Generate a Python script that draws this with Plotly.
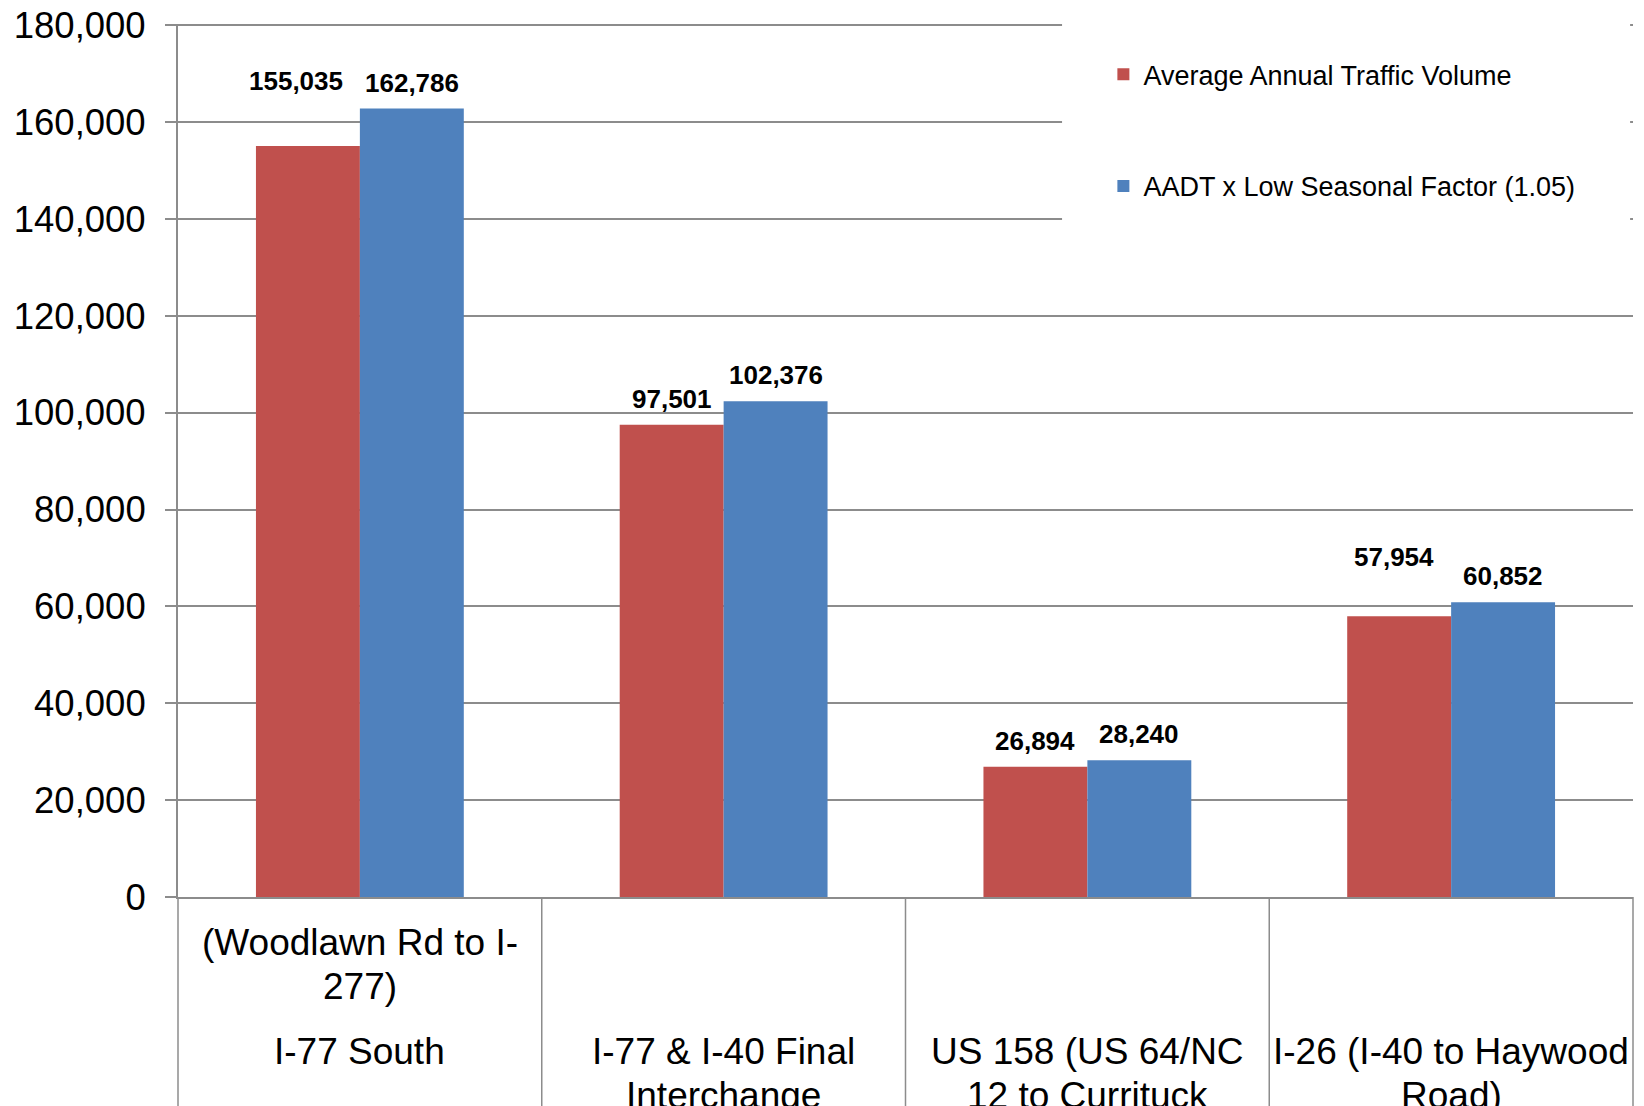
import plotly.graph_objects as go

# Corridors (outer category level) and sub-section notes (inner level)
corridors = [
    "I-77 South",
    "I-77 & I-40 Final Interchange",
    "US 158 (US 64/NC 12 to Currituck",
    "I-26 (I-40 to Haywood Road)",
]
corridor_lines = [
    ["I-77 South"],
    ["I-77 & I-40 Final", "Interchange"],
    ["US 158 (US 64/NC", "12 to Currituck"],
    ["I-26 (I-40 to Haywood", "Road)"],
]
section_lines = [["(Woodlawn Rd to I-", "277)"], [], [], []]

# Traffic volumes
series_names = ["Average Annual Traffic Volume", "AADT x Low Seasonal Factor (1.05)"]
aadt = [155035, 97501, 26894, 57954]
aadt_low_season = [162786, 102376, 28240, 60852]

y_ticks = [0, 20000, 40000, 60000, 80000, 100000, 120000, 140000, 160000, 180000]

RED = "#C0504D"
BLUE = "#4F81BD"
GRID = "#8C8C8C"
FONT = "Liberation Sans, Arial, sans-serif"
BARGAP = 1.5 / 3.5  # Excel gap width of 150%

fig = go.Figure()
fig.add_trace(go.Bar(x=corridors, y=aadt, name=series_names[0],
                     marker=dict(color=RED, line=dict(width=0)), legend="legend"))
fig.add_trace(go.Bar(x=corridors, y=aadt_low_season, name=series_names[1],
                     marker=dict(color=BLUE, line=dict(width=0)), legend="legend2"))

# Value labels above bars; a couple of labels are lifted to clear their neighbours
label_nudge = {(0, 0): (-12, 39), (0, 3): (-5, 33)}
half = (1 - BARGAP) / 4
annotations = []
for s, values in enumerate([aadt, aadt_low_season]):
    for i, v in enumerate(values):
        dx, dy = label_nudge.get((s, i), (0, 0))
        annotations.append(dict(
            x=i + (half if s else -half), y=v, xref="x", yref="y",
            text=f"<b>{v:,}</b>", showarrow=False, yanchor="middle",
            xshift=dx, yshift=26 + dy,
            font=dict(family=FONT, size=26, color="black"),
        ))

# Two-level category labels under the axis, one annotation per text line
LINE_STEP = 44
def add_lines(i, lines, first_offset):
    for j, line in enumerate(lines):
        annotations.append(dict(
            x=i, y=0, xref="x", yref="paper", text=line,
            showarrow=False, yanchor="middle",
            yshift=-(first_offset + j * LINE_STEP),
            font=dict(family=FONT, size=37, color="black"),
        ))

for i in range(len(corridors)):
    add_lines(i, section_lines[i], 45)
    add_lines(i, corridor_lines[i], 154)

# Category dividers running down from the axis
shapes = []
n = len(corridors)
for k in range(n + 1):
    shapes.append(dict(type="line", xref="paper", yref="paper",
                       x0=k / n, x1=k / n, y0=0, y1=-0.3,
                       line=dict(color=GRID, width=1.5), layer="above"))
# White backdrop behind the legend
shapes.append(dict(type="rect", xref="paper", yref="paper",
                   x0=0.6076, x1=0.998, y0=0.77, y1=1.02,
                   fillcolor="white", line=dict(width=0), layer="above"))

legend_style = dict(font=dict(family=FONT, size=27, color="black"),
                    bgcolor="rgba(0,0,0,0)", xanchor="left", yanchor="middle",
                    itemwidth=30, borderwidth=0)

fig.update_layout(
    width=1644, height=1106,
    margin=dict(l=178, r=11, t=24, b=209, pad=0, autoexpand=False),
    paper_bgcolor="white", plot_bgcolor="white",
    barmode="group", bargap=BARGAP, bargroupgap=0,
    font=dict(family=FONT, color="black"),
    showlegend=True,
    legend=dict(x=0.636, y=0.942, **legend_style),
    legend2=dict(x=0.636, y=0.814, **legend_style),
    annotations=annotations,
    shapes=shapes,
    xaxis=dict(showticklabels=False, ticks="", showgrid=False, zeroline=False,
               showline=True, linecolor=GRID, linewidth=2, automargin=False),
    yaxis=dict(range=[0, 180250], tickvals=y_ticks, tickformat=",",
               ticks="outside", ticklen=11, tickwidth=1.5, tickcolor=GRID,
               ticklabelstandoff=12, automargin=False,
               tickfont=dict(family=FONT, size=36.5, color="black"),
               showgrid=True, gridcolor=GRID, gridwidth=1.5, zeroline=False,
               showline=True, linecolor=GRID, linewidth=2),
)

fig.write_html("out.html")
